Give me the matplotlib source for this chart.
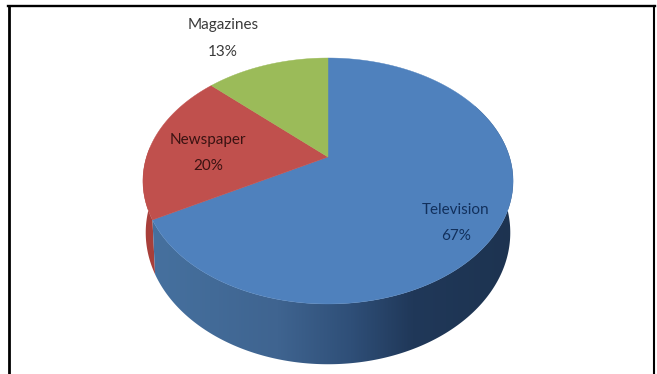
import numpy as np
import matplotlib
matplotlib.use("Agg")
import matplotlib.pyplot as plt
from matplotlib.colors import LinearSegmentedColormap
from matplotlib.patches import Polygon

# Media share data
categories = ["Television", "Newspaper", "Magazines"]
shares = [67, 20, 13]
top_colors = ["#4f81bd", "#c0504d", "#9bbb59"]
side_colors = ["#4a76a8", "#a83f3a", "#7f9a48"]

W, H = 657, 374
CX, CY = 328.0, 157.0
RX, RY = 181.5, 118.3
TILT = 0.195
RIM_DROP = 50.0
RIM_SX, RIM_SY = 0.985, 1.07


def project(theta, radius=1.0, drop=0.0, sx=1.0, sy=1.0):
    """Perspective projection of a disc; theta runs clockwise from 12 o'clock."""
    u = radius * np.sin(theta)
    v = radius * np.cos(theta)
    d = 1 + TILT * v
    return CX + sx * RX * u / d, CY + drop - sy * RY * v / d


fig = plt.figure(figsize=(W / 100, H / 100), dpi=100)
ax = fig.add_axes([0, 0, 1, 1])
ax.set_xlim(0, W)
ax.set_ylim(H, 0)
ax.axis("off")

fractions = np.cumsum([0] + shares) / sum(shares)
angles = 2 * np.pi * fractions

# Cylinder wall: only the near part of the rim is visible
wall_stops = [(0.0, "#46719f"), (0.35, "#3f6490"), (0.55, "#2f4f78"), (0.72, "#203859"), (1.0, "#1d3350")]
wall_cmap = LinearSegmentedColormap.from_list("wall", wall_stops)
t_wall = np.linspace(np.radians(62), angles[1], 300)
xt, yt = project(t_wall)
xb, yb = project(t_wall, drop=RIM_DROP, sx=RIM_SX, sy=RIM_SY)
wall = Polygon(np.column_stack([np.r_[xt, xb[::-1]], np.r_[yt, yb[::-1]]]),
               closed=True, fc="none", ec="none", transform=ax.transData)
ax.add_patch(wall)
x0, x1 = xt.min() - 2, xt.max() + 2
img = ax.imshow(np.linspace(0, 1, 256)[None, :], cmap=wall_cmap, aspect="auto",
                extent=[x0, x1, 372, 100], zorder=1)
img.set_clip_path(wall)
ax.set_xlim(0, W)
ax.set_ylim(H, 0)

# Small sliver of the newspaper wall on the left
t_red = np.linspace(angles[1], 3 * np.pi / 2 + 0.08, 60)
xt, yt = project(t_red)
xb, yb = project(t_red, drop=RIM_DROP, sx=RIM_SX, sy=RIM_SY)
ax.fill(np.r_[xt, xb[::-1]], np.r_[yt, yb[::-1]], color=side_colors[1], lw=0, zorder=0.9)

# Top face wedges
for a0, a1, color in zip(angles[:-1], angles[1:], top_colors):
    t = np.linspace(a0, a1, 300)
    x, y = project(t)
    ax.fill(np.r_[CX, x], np.r_[CY, y], color=color, lw=0.3, zorder=2)

# Labels placed at fixed spots on or beside each wedge
label_pos = [(456, 223), (208, 153), (223, 38.5)]
label_colors = ["#12305c", "#3a1312", "#3a3a3a"]
for name, share, (x, y), c in zip(categories, shares, label_pos, label_colors):
    ax.text(x, y, f"{name}\n{share}%", ha="center", va="center", color=c, zorder=3,
            family="Lato", fontsize=11, linespacing=2.1)

# Black frame: open at the bottom edge
ax.plot([8.8, 8.8], [H + 2, 6], color="black", lw=2.0, zorder=4, clip_on=True)
ax.plot([654.2, 654.2], [H + 2, 6], color="black", lw=1.5, zorder=4, clip_on=True)
ax.plot([8, 655], [6.2, 6.2], color="black", lw=1.7, zorder=4, clip_on=True)

fig.savefig("out.png", dpi=100, facecolor="white")
